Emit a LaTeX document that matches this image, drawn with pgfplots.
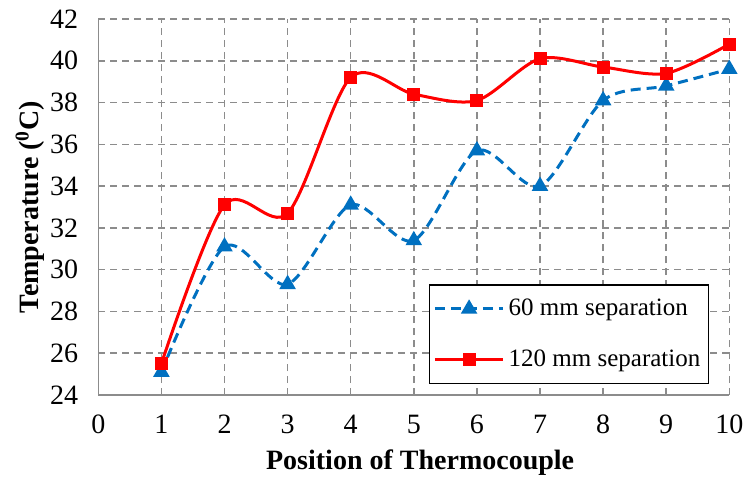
\documentclass[border=0pt]{standalone}
\usepackage{pgfplots}
\pgfplotsset{compat=1.18}
\usepackage{fontspec}
\setmainfont{Liberation Serif}
\definecolor{serblue}{RGB}{0,112,192}
\definecolor{gridgray}{RGB}{140,140,140}
\begin{document}
\begin{tikzpicture}
\useasboundingbox (-49.15pt,-41pt) rectangle (324.35pt,197.5pt);
\begin{axis}[
  scale only axis,
  width=315.5pt, height=188pt,
  xmin=0, xmax=10, ymin=24, ymax=42,
  xtick={0,...,10}, ytick={24,26,...,42},
  axis lines=left,
  axis line style={-, draw=gridgray, line width=0.75pt},
  major tick length=0pt,
  grid=major,
  major grid style={draw=gridgray, line width=0.75pt, dash pattern=on 3.5pt off 2.5pt},
  tick label style={font=\fontsize{14}{16}\selectfont},
  /pgf/number format/assume math mode=true,
  yticklabel style={xshift=-6.5pt},
  xticklabel style={yshift=-6.5pt},
  xlabel={\textbf{Position of Thermocouple}},
  ylabel={\textbf{Temperature (\textsuperscript{0}C)}},
  label style={font=\fontsize{14}{16}\selectfont},
  xlabel style={at={(axis description cs:0.51,-0.199)}, anchor=base},
  ylabel style={at={(axis description cs:-0.094,0.5)}, anchor=base},
  legend style={at={(axis description cs:0.968,0.029)}, anchor=south east,
    draw=black, line width=0.75pt, font=\fontsize{12.5}{14}\selectfont,
    inner xsep=2pt, inner ysep=5pt, row sep=11.5pt},
  legend cell align=left,
  legend image code/.code={
    \draw[mark repeat=2, mark phase=2, #1] plot coordinates {(0cm,0cm) (0.6cm,0cm) (1.2cm,0cm)};
  },
  clip=false,
]
\addplot[serblue, line width=1.5pt, dash pattern=on 5pt off 3pt, smooth,
  mark=triangle*, mark size=3.3pt, mark options={solid, fill=serblue}]
  coordinates {(1,25.1) (2,31.1) (3,29.3) (4,33.1) (5,31.4) (6,35.7) (7,34.0) (8,38.1) (9,38.8) (10,39.6)};
\addlegendentry{60 mm separation}
\addplot[red, line width=1.5pt, smooth,
  mark=square*, mark size=2.5pt, mark options={solid, fill=red}]
  coordinates {(1,25.5) (2,33.1) (3,32.7) (4,39.2) (5,38.4) (6,38.1) (7,40.1) (8,39.7) (9,39.4) (10,40.8)};
\addlegendentry{120 mm separation}
\end{axis}
\end{tikzpicture}
\end{document}
